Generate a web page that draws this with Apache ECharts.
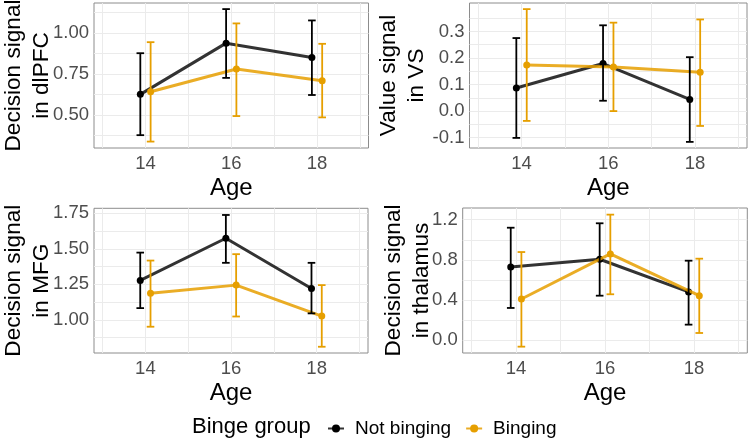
<!DOCTYPE html>
<html>
<head>
<meta charset="utf-8">
<script src="https://cdn.jsdelivr.net/npm/echarts@6/dist/echarts.min.js"></script>
<style>
html,body{margin:0;padding:0;background:#fff;}
#chart{width:750px;height:441px;}
</style>
</head>
<body>
<div id="chart"></div>
<script>
// ---------- data ----------
const ages = [14, 16, 18];
const ageTicks = [14, 16, 18];
const ageGrid = [13, 14, 15, 16, 17, 18, 19];
const groups = ['Not binging', 'Binging'];

// dlPFC
const dlpfcNot = [0.626, 0.937, 0.850];
const dlpfcNotLo = [0.378, 0.726, 0.622];
const dlpfcNotHi = [0.876, 1.144, 1.075];
const dlpfcBinge = [0.642, 0.780, 0.709];
const dlpfcBingeLo = [0.339, 0.494, 0.486];
const dlpfcBingeHi = [0.943, 1.057, 0.933];
const dlpfcTicks = [0.50, 0.75, 1.00];
const dlpfcGrid = [0.375, 0.50, 0.625, 0.75, 0.875, 1.00, 1.125];

// VS
const vsNot = [0.087, 0.179, 0.044];
const vsNotLo = [-0.101, 0.039, -0.116];
const vsNotHi = [0.275, 0.323, 0.203];
const vsBinge = [0.174, 0.166, 0.146];
const vsBingeLo = [-0.037, 0.000, -0.056];
const vsBingeHi = [0.384, 0.333, 0.345];
const vsTicks = [-0.1, 0.0, 0.1, 0.2, 0.3];
const vsGrid = [-0.1, -0.05, 0.0, 0.05, 0.1, 0.15, 0.2, 0.25, 0.3, 0.35];

// MFG
const mfgNot = [1.277, 1.574, 1.220];
const mfgNotLo = [1.082, 1.401, 1.045];
const mfgNotHi = [1.473, 1.738, 1.401];
const mfgBinge = [1.187, 1.244, 1.026];
const mfgBingeLo = [0.951, 1.023, 0.810];
const mfgBingeHi = [1.417, 1.462, 1.244];
const mfgTicks = [1.00, 1.25, 1.50, 1.75];
const mfgGrid = [0.875, 1.00, 1.125, 1.25, 1.375, 1.50, 1.625, 1.75];

// thalamus
const thalNot = [0.729, 0.806, 0.481];
const thalNotLo = [0.322, 0.444, 0.156];
const thalNotHi = [1.120, 1.164, 0.792];
const thalBinge = [0.411, 0.859, 0.444];
const thalBingeLo = [-0.063, 0.458, 0.073];
const thalBingeHi = [0.878, 1.250, 0.812];
const thalTicks = [0.0, 0.4, 0.8, 1.2];
const thalGrid = [0.0, 0.2, 0.4, 0.6, 0.8, 1.0, 1.2];

// ---------- layout / style ----------
const FONT = 'Liberation Sans, Arial, sans-serif';
const colors = ['#000000', '#E69F00'];
const lineColors = ['rgba(0,0,0,0.8)', 'rgba(230,159,0,0.85)'];
const dodge = [-0.12, 0.12];

const panels = [
  {name: 'Decision signal\nin dlPFC', grid: {left: 94, top: 3, width: 274.5, height: 145},
   min: 0.30, max: 1.181, ticks: dlpfcTicks, gridVals: dlpfcGrid, dec: 2, gap: 38,
   g: [[dlpfcNot, dlpfcNotLo, dlpfcNotHi], [dlpfcBinge, dlpfcBingeLo, dlpfcBingeHi]]},
  {name: 'Value signal\nin VS', grid: {left: 469.5, top: 3, width: 277.5, height: 145},
   min: -0.139, max: 0.407, ticks: vsTicks, gridVals: vsGrid, dec: 1, gap: 38.5,
   g: [[vsNot, vsNotLo, vsNotHi], [vsBinge, vsBingeLo, vsBingeHi]]},
  {name: 'Decision signal\nin MFG', grid: {left: 94, top: 208.3, width: 274, height: 144.7},
   min: 0.766, max: 1.785, ticks: mfgTicks, gridVals: mfgGrid, dec: 2, gap: 38,
   g: [[mfgNot, mfgNotLo, mfgNotHi], [mfgBinge, mfgBingeLo, mfgBingeHi]]},
  {name: 'Decision signal\nin thalamus', grid: {left: 462.7, top: 208, width: 284.6, height: 145},
   min: -0.126, max: 1.316, ticks: thalTicks, gridVals: thalGrid, dec: 1, gap: 27,
   g: [[thalNot, thalNotLo, thalNotHi], [thalBinge, thalBingeLo, thalBingeHi]]}
];

const grids = [], xAxes = [], yAxes = [], series = [];
const gridLine = {show: true, lineStyle: {color: '#EBEBEB', width: 1}};

panels.forEach((p, i) => {
  grids.push(Object.assign({show: true, borderColor: '#8C8C8C', borderWidth: 1, backgroundColor: 'transparent',
    containLabel: false, outerBoundsMode: 'none'}, p.grid));
  xAxes.push({
    type: 'value', gridIndex: i, min: 12.8, max: 19.2,
    name: 'Age', nameLocation: 'middle', nameGap: 28, nameMoveOverlap: false,
    nameTextStyle: {fontFamily: FONT, fontSize: 24, color: '#000'},
    axisLine: {show: false},
    axisTick: {show: false, customValues: ageGrid},
    axisLabel: {customValues: ageTicks, fontFamily: FONT, fontSize: 18.5, color: '#4D4D4D', margin: 6},
    splitLine: gridLine
  });
  yAxes.push({
    type: 'value', gridIndex: i, min: p.min, max: p.max,
    name: p.name, nameLocation: 'middle', nameGap: p.gap, nameRotate: 90, nameMoveOverlap: false,
    nameTextStyle: {fontFamily: FONT, fontSize: 22.6, color: '#000', lineHeight: 28, align: 'center'},
    axisLine: {show: false},
    axisTick: {show: false, customValues: p.gridVals},
    axisLabel: {customValues: p.ticks, fontFamily: FONT, fontSize: 18.5, color: '#4D4D4D', margin: 5,
      formatter: v => Number(v).toFixed(p.dec)},
    splitLine: gridLine
  });
  // lines with points
  p.g.forEach((d, k) => {
    series.push({
      type: 'line', name: groups[k], xAxisIndex: i, yAxisIndex: i,
      data: ages.map((a, j) => [a + dodge[k], d[0][j]]),
      symbol: 'circle', symbolSize: 7, showSymbol: true,
      lineStyle: {color: lineColors[k], width: 3},
      itemStyle: {color: colors[k]},
      z: 2 + k, animation: false, silent: true
    });
  });
  p.g.forEach((d, k) => {
    series.push({
      type: 'custom', name: groups[k], xAxisIndex: i, yAxisIndex: i,
      data: ages.map((a, j) => [a + dodge[k], d[1][j], d[2][j]]),
      encode: {x: 0, y: [1, 2]},
      renderItem: (params, api) => {
        const x = api.value(0), lo = api.value(1), hi = api.value(2);
        const a = api.coord([x, lo]), b = api.coord([x, hi]);
        const w = 3.8;
        const st = {stroke: colors[k], lineWidth: 1.8};
        return {type: 'group', children: [
          {type: 'line', shape: {x1: a[0], y1: a[1], x2: b[0], y2: b[1]}, style: st},
          {type: 'line', shape: {x1: a[0] - w, y1: a[1], x2: a[0] + w, y2: a[1]}, style: st},
          {type: 'line', shape: {x1: b[0] - w, y1: b[1], x2: b[0] + w, y2: b[1]}, style: st}
        ]};
      },
      z: 4 + k, animation: false, silent: true
    });
  });
});

const chart = echarts.init(document.getElementById('chart'), null, {renderer: 'canvas'});
chart.setOption({
  animation: false,
  backgroundColor: '#fff',
  textStyle: {fontFamily: FONT},
  title: {text: 'Binge group', left: 187, top: 411,
    textStyle: {fontFamily: FONT, fontSize: 22, fontWeight: 'normal', color: '#000'}},
  legend: {
    data: groups, left: 322, top: 414, itemWidth: 16, itemHeight: 10, itemGap: 14,
    textStyle: {fontFamily: FONT, fontSize: 19, color: '#000', padding: [0, 0, 0, 6]},
    selectedMode: false
  },
  grid: grids, xAxis: xAxes, yAxis: yAxes, series: series
});
</script>
</body>
</html>
